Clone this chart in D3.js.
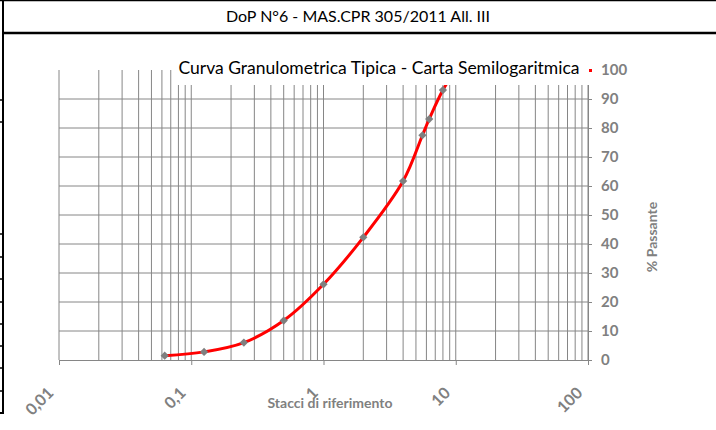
<!DOCTYPE html>
<html>
<head>
<meta charset="utf-8">
<script src="https://cdn.jsdelivr.net/npm/d3@7"></script>
<style>
  html, body { margin: 0; padding: 0; background: #fff; }
  svg { display: block; font-family: Lato, "Open Sans", sans-serif; }
</style>
</head>
<body>
<div id="chart"></div>
<script>
// sieve openings (mm) and cumulative % passing
const sieves = [0.063, 0.125, 0.25, 0.5, 1, 2, 4, 5.6, 6.3, 8, 10];
const passing = [1.5, 2.8, 6.0, 13.6, 26.1, 42.3, 61.7, 77.5, 83.1, 93.1, 100];

const xTickValues = [0.01, 0.1, 1, 10, 100];
const xTickLabels = ["0,01", "0,1", "1", "10", "100"];
const yTickValues = [0, 10, 20, 30, 40, 50, 60, 70, 80, 90, 100];

const headerText = "DoP N°6 - MAS.CPR 305/2011 All. III";
const titleText = "Curva Granulometrica Tipica - Carta Semilogaritmica";
const xTitle = "Stacci di riferimento";
const yTitle = "% Passante";

const width = 716;
const height = 430;
const gray = "#868686";
const labelGray = "#808080";

const svg = d3
  .select("#chart")
  .append("svg")
  .attr("width", width)
  .attr("height", height)
  .attr("viewBox", [0, 0, width, height]);

// page frame (table cell around the chart)
svg.append("line").attr("x1", 0).attr("x2", width).attr("y1", 0.5).attr("y2", 0.5)
  .attr("stroke", "#000").attr("stroke-width", 1.5);
svg.append("line").attr("x1", 3).attr("x2", width).attr("y1", 33).attr("y2", 33)
  .attr("stroke", "#000").attr("stroke-width", 2.5);
svg.append("line").attr("x1", 3).attr("x2", 3).attr("y1", 0).attr("y2", 414)
  .attr("stroke", "#000").attr("stroke-width", 2);
svg.append("line").attr("x1", 0).attr("x2", 4).attr("y1", 413).attr("y2", 413)
  .attr("stroke", "#000").attr("stroke-width", 2);
[100, 122, 234, 257, 279, 302, 324, 346, 368, 391].forEach((y) => {
  svg.append("line").attr("x1", 0).attr("x2", 3).attr("y1", y).attr("y2", y)
    .attr("stroke", "#000").attr("stroke-width", 1.5);
});

svg.append("text")
  .attr("x", 358)
  .attr("y", 22)
  .attr("text-anchor", "middle")
  .attr("font-size", 16)
  .attr("fill", "#000")
  .text(headerText);

// scales
const x = d3.scaleLog().domain([0.01, 100]).range([59, 588]);
const y = d3.scaleLinear().domain([0, 100]).range([360, 70]);

// vertical grid: every 1..9 multiple in each decade
svg.append("g")
  .selectAll("line")
  .data(x.ticks())
  .join("line")
  .attr("x1", (d) => x(d))
  .attr("x2", (d) => x(d))
  .attr("y1", y(100))
  .attr("y2", y(0))
  .attr("stroke", gray)
  .attr("stroke-width", 1);

// horizontal grid
svg.append("g")
  .selectAll("line")
  .data(yTickValues.filter((d) => d > 0 && d < 100))
  .join("line")
  .attr("x1", x(0.01))
  .attr("x2", x(100))
  .attr("y1", (d) => y(d))
  .attr("y2", (d) => y(d))
  .attr("stroke", gray)
  .attr("stroke-width", 1);

// bottom axis
svg.append("g")
  .attr("transform", `translate(0,${y(0)})`)
  .call(d3.axisBottom(x).tickValues(xTickValues).tickSize(5).tickFormat((d, i) => xTickLabels[i]))
  .call((g) => g.select(".domain").attr("stroke", gray))
  .call((g) => g.selectAll(".tick line").attr("stroke", gray))
  .call((g) =>
    g.selectAll(".tick text")
      .attr("fill", labelGray)
      .attr("font-family", "Lato, sans-serif")
      .attr("font-size", 16)
      .attr("font-weight", "bold")
      .attr("text-anchor", "end")
      .attr("dy", 0)
      .attr("y", 0)
      .attr("transform", "translate(-5,34) rotate(-45)"),
  );

// right axis
svg.append("g")
  .attr("transform", `translate(${x(100)},0)`)
  .call(d3.axisRight(y).tickValues(yTickValues).tickSize(4).tickPadding(9))
  .call((g) => g.select(".domain").attr("stroke", gray))
  .call((g) => g.selectAll(".tick line").attr("stroke", gray))
  .call((g) =>
    g.selectAll(".tick text")
      .attr("fill", labelGray)
      .attr("font-family", "Lato, sans-serif")
      .attr("font-size", 15)
      .attr("font-weight", "bold"),
  );

// grading curve
const points = sieves.map((s, i) => [s, passing[i]]);

const line = d3
  .line()
  .x((d) => x(d[0]))
  .y((d) => y(d[1]))
  .curve(d3.curveCatmullRom.alpha(0.5));

svg.append("path")
  .datum(points)
  .attr("fill", "none")
  .attr("stroke", "#ff0000")
  .attr("stroke-width", 3)
  .attr("stroke-linejoin", "round")
  .attr("d", line);

svg.append("g")
  .selectAll("path")
  .data(points)
  .join("path")
  .attr("d", d3.symbol(d3.symbolSquare, 34))
  .attr("transform", (d) => `translate(${x(d[0])},${y(d[1])}) rotate(45)`)
  .attr("fill", "#7f7f7f");

// chart title sits on a white box over the top of the plot
svg.append("rect")
  .attr("x", 172)
  .attr("y", 52)
  .attr("width", 418)
  .attr("height", 33)
  .attr("fill", "#fff");

svg.append("text")
  .attr("x", 379)
  .attr("y", 74)
  .attr("text-anchor", "middle")
  .attr("font-size", 17.5)
  .attr("fill", "#000")
  .text(titleText);

// legend key peeking out next to the title
svg.append("rect")
  .attr("x", 589)
  .attr("y", 69)
  .attr("width", 3)
  .attr("height", 3)
  .attr("fill", "#ff0000");

// axis titles
svg.append("text")
  .attr("x", 330)
  .attr("y", 408)
  .attr("text-anchor", "middle")
  .attr("font-size", 14)
  .attr("font-weight", "bold")
  .attr("fill", labelGray)
  .text(xTitle);

svg.append("text")
  .attr("transform", "translate(657,237) rotate(-90)")
  .attr("text-anchor", "middle")
  .attr("font-size", 14)
  .attr("font-weight", "bold")
  .attr("fill", labelGray)
  .text(yTitle);
</script>
</body>
</html>
